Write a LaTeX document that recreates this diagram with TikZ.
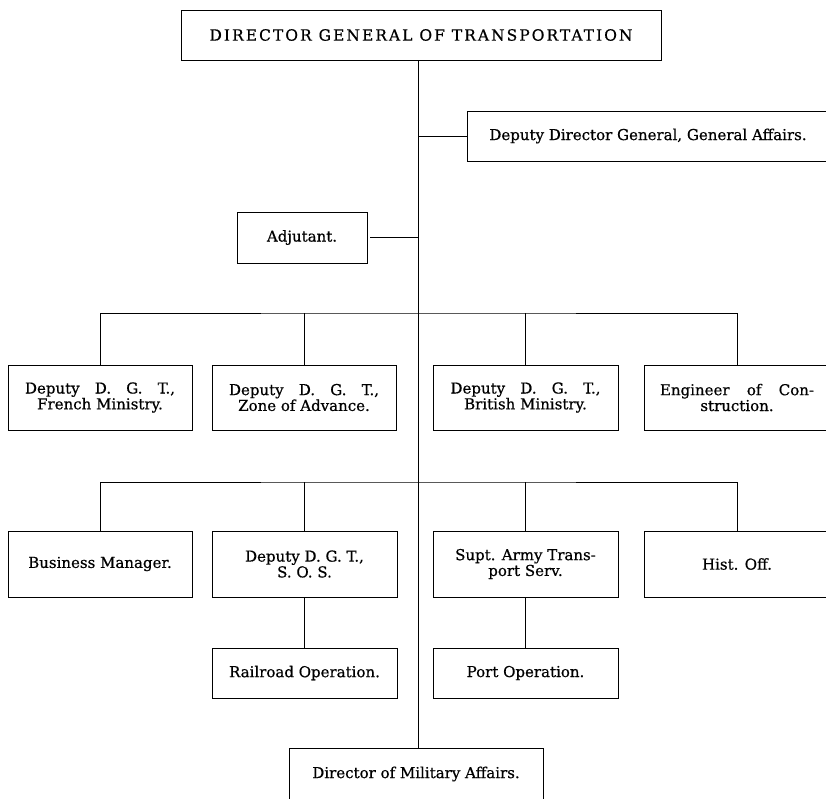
\documentclass[tikz,border=0pt]{standalone}
\usepackage{fontspec}
\setmainfont{DejaVu Serif}[FakeBold=0.6]
% justified first line of a two-line label
\newcommand{\spreadline}[2]{\makebox[#1][s]{#2}}
\begin{document}
\begin{tikzpicture}[x=1pt,y=-1pt,
  box/.style={draw, line width=0.8pt, inner sep=0pt, align=center,
    font=\fontsize{15}{15.8}\selectfont},
  dims/.style 2 args={minimum width=#1pt, minimum height=#2pt},
  link/.style={line width=0.7pt}]
\useasboundingbox (0,0) rectangle (826,798);
\clip (0,0) rectangle (826,798);

% spine position
\coordinate (spine) at (418,0);
\coordinate (bus1) at (418,313);
\coordinate (bus2) at (418,482);

% head
\node[box, dims={480}{50}, font=\fontsize{15.5}{18}\selectfont\addfontfeature{LetterSpace=13}]
  (dgt) at (421,35) {DIRECTOR GENERAL OF TRANSPORTATION};

% staff
\node[box, dims={362}{50}] (ddg) at (648,136) {Deputy Director General, General Affairs.};
\node[box, dims={130}{51}] (adj) at (302,237.5) {Adjutant.};

% first tier
\node[box, dims={184}{65}] (fm) at (100,397.5) {\spreadline{150pt}{Deputy D. G. T.,}\\French Ministry.};
\node[box, dims={184}{65}] (za) at (304,397.5) {\spreadline{150pt}{Deputy D. G. T.,}\\Zone of Advance.};
\node[box, dims={185}{65}] (bm) at (525.5,397.5) {\spreadline{150pt}{Deputy D. G. T.,}\\British Ministry.};
\node[box, dims={186}{65}] (ec) at (737,397.5) {\spreadline{154pt}{Engineer of Con-}\\struction.};

% second tier
\node[box, dims={184}{66}] (bus) at (100,564) {Business Manager.};
\node[box, dims={185}{66}] (sos) at (304.5,564) {Deputy D. G. T.,\\S. O. S.};
\node[box, dims={185}{66}] (sat) at (525.5,564) {Supt. Army Trans-\\port Serv.};
\node[box, dims={186}{66}] (hist) at (737,564) {Hist. Off.};

% third tier
\node[box, dims={185}{50}] (rr) at (304.5,673) {Railroad Operation.};
\node[box, dims={185}{50}] (port) at (525.5,673) {Port Operation.};

% military affairs
\node[box, dims={254}{52}] (dma) at (416,774) {Director of Military Affairs.};

% spine
\draw[link] (dgt.south -| spine) -- (dma.north -| spine);
\draw[link] (spine |- ddg.west) -- (ddg.west);
\draw[link] ([xshift=3pt]adj.east) -- (spine |- adj.east);

% first-tier bus
\draw[link] (fm.north) |- (bus1) -| (ec.north);
\draw[link] (za.north) -- (za.north |- bus1);
\draw[link] (bm.north) -- (bm.north |- bus1);

% second-tier bus
\draw[link] (bus.north) |- (bus2) -| (hist.north);
\draw[link] (sos.north) -- (sos.north |- bus2);
\draw[link] (sat.north) -- (sat.north |- bus2);

% operations
\draw[link] (sos.south) -- (rr.north);
\draw[link] (sat.south) -- (port.north);
\end{tikzpicture}
\end{document}
